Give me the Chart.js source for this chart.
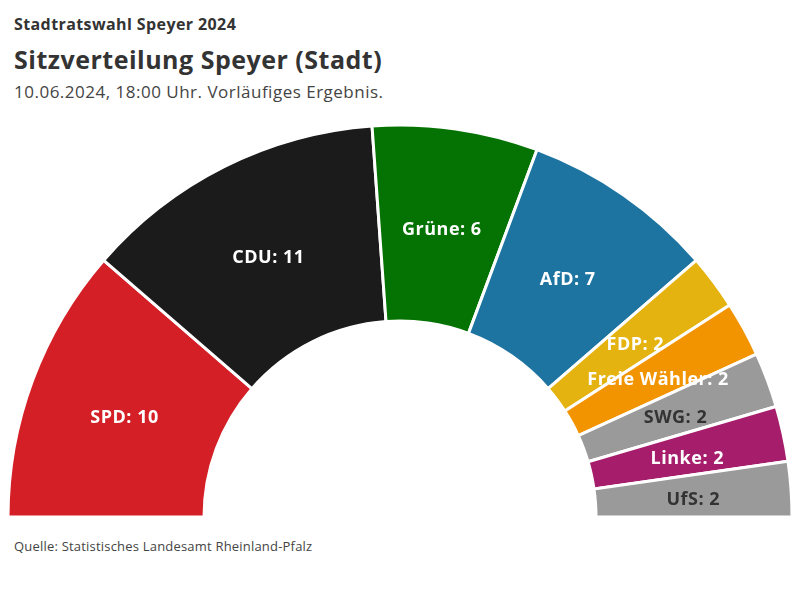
<!DOCTYPE html>
<html>
<head>
<meta charset="utf-8">
<script src="https://cdn.jsdelivr.net/npm/chart.js@4.4.1/dist/chart.umd.min.js"></script>
<style>
  body { margin: 0; background: #fff; font-family: "Open Sans", sans-serif; color: #333; }
  .head { position: absolute; left: 14px; white-space: nowrap; }
  #kicker { top: 13px; font-size: 16px; font-weight: 700; letter-spacing: 0.4px; }
  #title { top: 42px; font-size: 25px; font-weight: 700; letter-spacing: 0.5px; }
  #sub { top: 80px; font-size: 17px; color: #444; letter-spacing: 0.5px; }
  #src { top: 537px; font-size: 13px; color: #444; letter-spacing: 0.2px; }
  #wrap { position: absolute; left: 0; top: 120px; width: 800px; height: 410px; }
</style>
</head>
<body>
<div class="head" id="kicker">Stadtratswahl Speyer 2024</div>
<div class="head" id="title">Sitzverteilung Speyer (Stadt)</div>
<div class="head" id="sub">10.06.2024, 18:00 Uhr. Vorläufiges Ergebnis.</div>
<div id="wrap"><canvas id="canv"></canvas></div>
<div class="head" id="src">Quelle: Statistisches Landesamt Rheinland-Pfalz</div>
<script>
const parties = ["SPD", "CDU", "Grüne", "AfD", "FDP", "Freie Wähler", "SWG", "Linke", "UfS"];
const seats = [10, 11, 6, 7, 2, 2, 2, 2, 2];
const colors = ["#d41f26", "#1b1b1b", "#057304", "#1d74a0", "#e5b30f", "#f29300", "#9a9a9a", "#a61d6c", "#9a9a9a"];
const labelColors = ["#fff", "#fff", "#fff", "#fff", "#fff", "#fff", "#333", "#fff", "#333"];

// draws "Partei: n" in the middle of each segment
const segLabels = {
  id: 'segLabels',
  afterDatasetsDraw(chart) {
    const ctx = chart.ctx;
    const meta = chart.getDatasetMeta(0);
    ctx.save();
    ctx.font = 'bold 18px "Open Sans", sans-serif';
    ctx.letterSpacing = '0.5px';
    ctx.textAlign = 'center';
    ctx.textBaseline = 'middle';
    meta.data.forEach((arc, i) => {
      const p = arc.getCenterPoint();
      ctx.fillStyle = labelColors[i];
      ctx.fillText(parties[i] + ': ' + seats[i], p.x, p.y + 4);
    });
    ctx.restore();
  }
};

document.addEventListener("DOMContentLoaded", () => {
  const ctx = document.getElementById('canv').getContext('2d');
  new Chart(ctx, {
    type: 'doughnut',
    data: {
      labels: parties,
      datasets: [{
        data: seats,
        backgroundColor: colors,
        borderColor: '#fff',
        borderWidth: 3
      }]
    },
    options: {
      responsive: true,
      maintainAspectRatio: false,
      animation: false,
      rotation: -90,
      circumference: 180,
      cutout: '50%',
      layout: { padding: { left: 6.5, right: 6.5, top: 3.5, bottom: 11.5 } },
      plugins: {
        legend: { display: false },
        tooltip: { enabled: false }
      }
    },
    plugins: [segLabels]
  });
});
</script>
</body>
</html>
